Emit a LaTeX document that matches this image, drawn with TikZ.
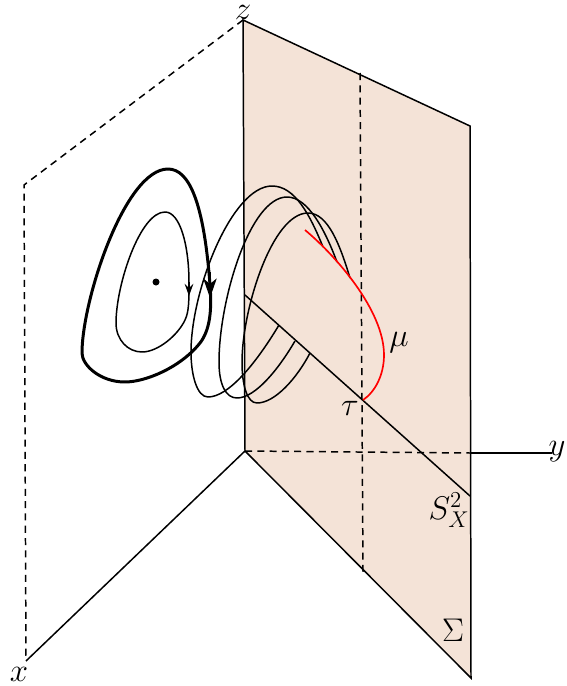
\documentclass[tikz,border=0pt]{standalone}
\usepackage{xcolor}
\usetikzlibrary{arrows.meta, positioning}
\definecolor{planefill}{HTML}{F4E3D7}

\begin{document}
\begin{tikzpicture}[
    x=0.02cm, y=-0.02cm,
    axis/.style={line width=0.85pt, draw=black},
    hidden/.style={line width=0.85pt, draw=black, dash pattern=on 4pt off 3pt},
    orbit/.style={line width=0.85pt, draw=black, line join=round},
    limitcycle/.style={line width=1.7pt, draw=black, line join=round},
    mathlabel/.style={inner sep=0pt, font=\LARGE, scale=1.08},
    flow/.style={-{Stealth[length=7pt, width=5pt, inset=2.5pt]}, line width=0.85pt},
    flowthick/.style={-{Stealth[length=11pt, width=7.5pt, inset=3pt]}, line width=1.7pt}
]
\useasboundingbox (0,0) rectangle (566,686);
\coordinate (o)  at (245,451);
\coordinate (zt) at (243,20);
\coordinate (pr) at (470,126);
\coordinate (pb) at (471,678);
\coordinate (bw) at (24,185);
\coordinate (xa) at (26,661);
\coordinate (ye) at (552,453);
\coordinate (yp) at (470,453);
\coordinate (vt) at (360,73);
\coordinate (vb) at (363,572);
\coordinate (sa) at (245,295);
\coordinate (sb) at (470,496);
\coordinate (ta) at (363,400);
% plane
\fill[planefill] (zt) -- (pr) -- (pb) -- (o) -- cycle;
\draw[hidden] (zt) -- (bw) -- (xa);
\draw[axis] (xa) -- (o);
\draw[hidden] (o) -- (yp);
\draw[axis] (yp) -- (ye);
\draw[hidden] (vt) -- (vb);
\draw[axis] (o) -- (zt) -- (pr) -- (pb) -- cycle;
\draw[axis] (sa) -- (sb);
% focus and cycles
\fill (156,282) circle (3.5);
\draw[orbit] (165,212) .. controls (180,212) and (189,245) .. (189,283)
  .. controls (189,300) and (189,312) .. (185,320)
  .. controls (178,335) and (158,352) .. (142,352)
  .. controls (128,352) and (116,340) .. (116,323)
  .. controls (116,285) and (140,212) .. (165,212) -- cycle;
\draw[limitcycle] (168,169) .. controls (190,169) and (204,205) .. (210,285)
  .. controls (212,310) and (210,330) .. (200,343)
  .. controls (180,368) and (145,382) .. (125,382)
  .. controls (100,382) and (82,365) .. (82,353)
  .. controls (82,300) and (125,169) .. (168,169) -- cycle;
\draw[flow] (189,282) -- (189,296);
\draw[flowthick] (210,272) -- (210,298);
% return map
\draw[orbit] (279,325) .. controls (255,365) and (228,397) .. (208,397)
  .. controls (197,397) and (191,375) .. (191,352)
  .. controls (191,290) and (232,186) .. (272,186)
  .. controls (295,186) and (310,215) .. (323,247);
\draw[orbit] (295,341) .. controls (278,370) and (255,398) .. (237,398)
  .. controls (226,398) and (219,385) .. (219,362)
  .. controls (219,300) and (250,197) .. (287,197)
  .. controls (308,197) and (325,230) .. (337,262);
\draw[orbit] (310,353) .. controls (297,378) and (275,403) .. (257,403)
  .. controls (247,403) and (242,385) .. (242,362)
  .. controls (242,310) and (272,213) .. (308,213)
  .. controls (328,213) and (340,245) .. (350,278);
\draw[red, line width=0.95pt] (305,230) .. controls (335,255) and (384,310) .. (384,355)
  .. controls (384,375) and (375,392) .. (ta);
% labels
\node[mathlabel] (lz) at (243,12) {$z$};
\node[mathlabel] (ly) at (557,452) {$y$};
\node[mathlabel] (lx) at (19,674) {$x$};
\node[mathlabel] (lmu) at (399,343) {$\mu$};
\node[mathlabel] (ltau) at (350,408) {$\tau$};
\node[mathlabel] (ls) at (449,510) {$S^2_X$};
\node[mathlabel] (lsigma) at (453,630) {$\Sigma$};
\end{tikzpicture}
\end{document}
